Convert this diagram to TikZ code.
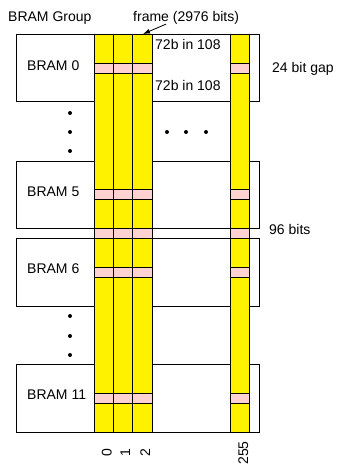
\documentclass[tikz,border=0pt]{standalone}
\usepackage{fontspec}
\setmainfont{Liberation Sans}
\usetikzlibrary{arrows.meta}
\definecolor{bandpink}{RGB}{255,210,210}

\begin{document}
\begin{tikzpicture}[x=1pt, y=-1pt,
    bram/.style={draw, fill=white, line width=0.8pt},
    col/.style={draw, fill=yellow, line width=0.8pt},
    band/.style={draw, fill=bandpink, line width=0.8pt},
    lbl/.style={font=\fontsize{14}{16}\selectfont, inner sep=0pt, anchor=base west},
    idx/.style={font=\fontsize{14}{16}\selectfont, inner sep=0pt, anchor=base, rotate=90}]
    \useasboundingbox (0,0) rectangle (337,466);
    % BRAM blocks
    \draw[bram] (16,34) rectangle (259,101);
    \draw[bram] (16,161) rectangle (259,228.3);
    \draw[bram] (16,238.3) rectangle (259,306);
    \draw[bram] (16,364.3) rectangle (259,432);
    % frame columns with the gap bands
    \foreach \xa/\xb in {94/113.3, 113.3/132.6, 132.6/152, 230/249} {
        \draw[col] (\xa,34) rectangle (\xb,432);
        \foreach \ya/\yb in {63/73, 189.5/199.5, 228.3/238.3, 267.5/277, 393.3/403.3}
            \draw[band] (\xa,\ya) rectangle (\xb,\yb);
    }
    \coordinate (c2top) at (143,34);
    % labels
    \node[lbl] (group) at (8,21) {BRAM Group};
    \node[lbl] (frame) at (133,21) {frame (2976 bits)};
    \node[lbl] (upper) at (155,49) {72b in 108};
    \node[lbl] (lower) at (155,90.5) {72b in 108};
    \node[lbl] (gap) at (272,72) {24 bit gap};
    \node[lbl] (bits) at (269,234) {96 bits};
    \node[lbl] (b0) at (27,70) {BRAM 0};
    \node[lbl] (b5) at (27,196) {BRAM 5};
    \node[lbl] (b6) at (27,273.3) {BRAM 6};
    \node[lbl] (b11) at (27,399.3) {BRAM 11};
    \draw[-{Latex[length=7pt,width=5pt]}, line width=0.8pt] ([xshift=-20pt]frame.south) -- (c2top);
    % dots
    \fill (70,113) circle (2pt);
    \fill (70,132) circle (2pt);
    \fill (70,151) circle (2pt);
    \fill (167,132) circle (2pt);
    \fill (186,132) circle (2pt);
    \fill (206,132) circle (2pt);
    \fill (70,316) circle (2pt);
    \fill (70,336) circle (2pt);
    \fill (70,355) circle (2pt);
    % column numbers
    \node[idx] (n0) at (111.7,453) {0};
    \node[idx] (n1) at (130,453) {1};
    \node[idx] (n2) at (150,453) {2};
    \node[idx] (n255) at (248,453) {255};
\end{tikzpicture}
\end{document}
